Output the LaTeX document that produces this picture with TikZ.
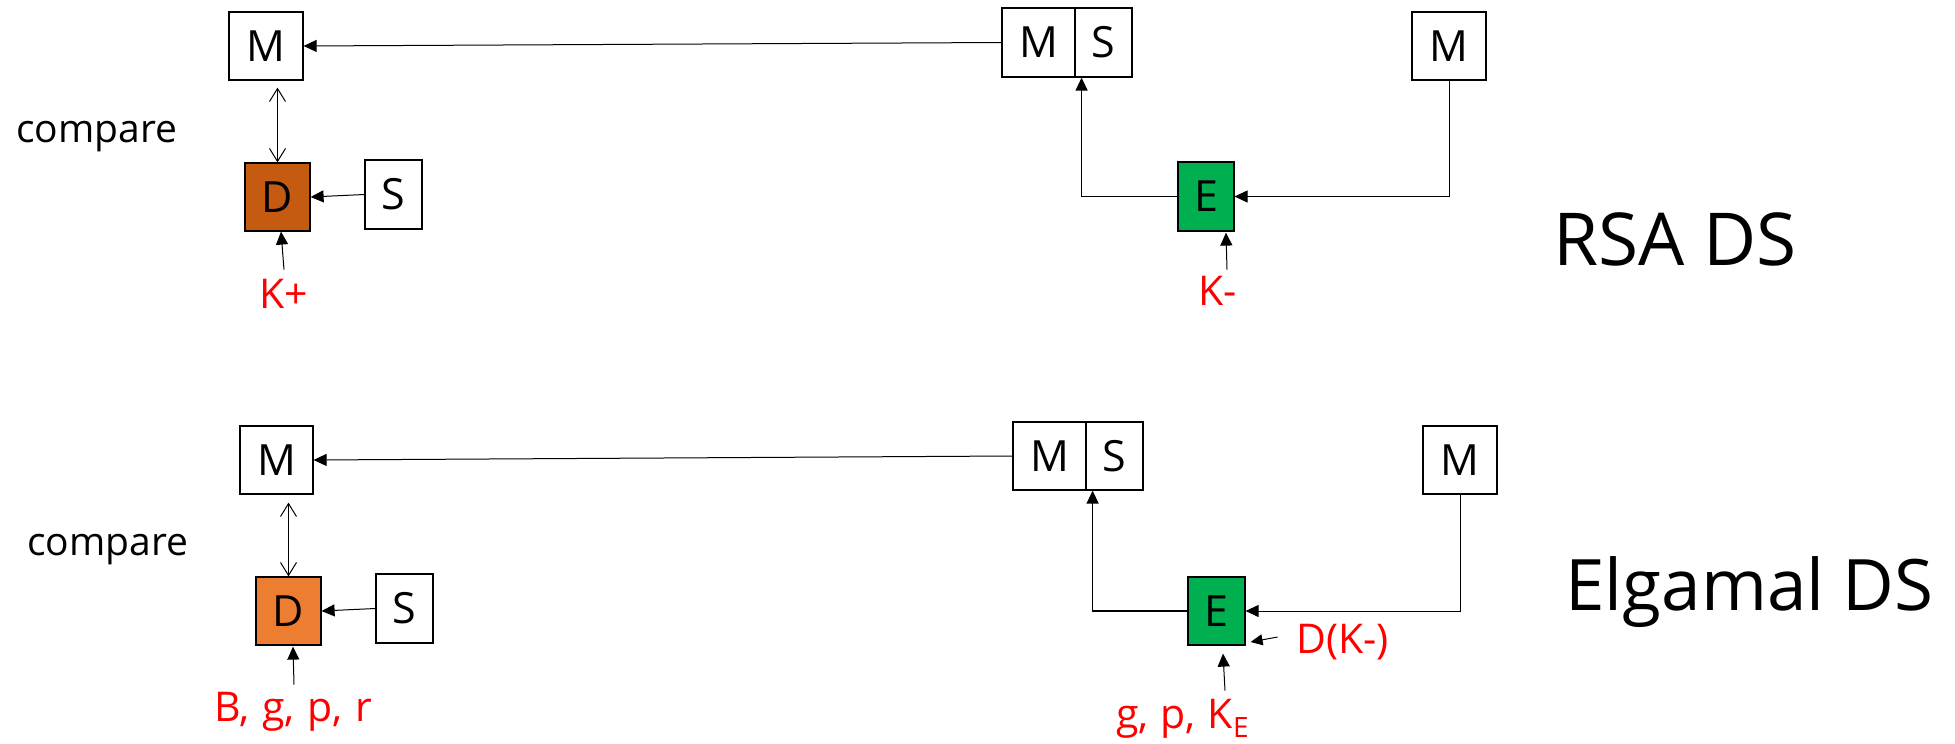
\documentclass[tikz,border=0pt]{standalone}
\usepackage{fontspec}
\setmainfont{Open Sans}
\usetikzlibrary{arrows.meta}
\definecolor{dkorange}{HTML}{C55A11}
\definecolor{ltorange}{HTML}{ED7D31}
\definecolor{pgreen}{HTML}{00B050}
\definecolor{pred}{HTML}{FF0000}
\begin{document}
\begin{tikzpicture}[x=1pt,y=-1pt,
  box/.style={draw=black,line width=1.2pt,inner sep=0pt,minimum height=68pt,font=\fontsize{43}{48}\selectfont},
  lbl/.style={inner sep=0pt,text=pred,font=\fontsize{41}{46}\selectfont},
  plain/.style={inner sep=0pt,font=\fontsize{39}{46}\selectfont},
  title/.style={inner sep=0pt,font=\fontsize{73}{80}\selectfont},
  conn/.style={line width=1pt,-{Triangle[length=13pt,width=12pt]}},
  dbl/.style={line width=1pt,{Straight Barb[length=13pt,width=16pt]}-{Straight Barb[length=13pt,width=16pt]}},
]
\useasboundingbox (0,0) rectangle (1955,744);

% ---------- RSA DS ----------
\node[box,minimum width=74pt] (m1) at (266,46) {M};
\node[box,minimum width=65pt,fill=dkorange] (d1) at (277.5,197) {D};
\node[box,minimum width=57pt,minimum height=69pt] (s1) at (393.5,194.5) {S};
\node[box,minimum width=73pt,minimum height=69pt] (ms1m) at (1038.5,42.5) {M};
\node[box,minimum width=57pt,minimum height=69pt] (ms1s) at (1103.5,42.5) {S};
\node[box,minimum width=74pt] (mr1) at (1449,46) {M};
\node[box,minimum width=56pt,minimum height=69pt,fill=pgreen] (e1) at (1206,196.5) {E};
\node[plain,anchor=base west] (cmp1) at (16,142) {compare};
\node[lbl,anchor=base west] (kp) at (259,308) {K+};
\node[lbl,anchor=base west] (km) at (1198,305) {K-};
\node[title,anchor=base west] (rsa) at (1553,265) {RSA DS};

\draw[conn] (ms1m.west) -- (m1.east);
\draw[dbl] ([yshift=-7pt]d1.north |- m1.south) -- (d1.north);
\draw[conn] (s1.west) -- (d1.east);
\draw[conn,line width=1.3pt] (e1.west) -| ([xshift=6pt]ms1m.south east);
\draw[conn] (mr1.south) |- (e1.east);
\draw[conn] ([xshift=6.5pt,yshift=-38pt]d1.south) -- ([xshift=3.5pt]d1.south);
\draw[conn] ([xshift=21pt,yshift=-38pt]e1.south) -- ([xshift=20pt,yshift=-1pt]e1.south);

% ---------- Elgamal DS ----------
\node[box,minimum width=73pt] (m2) at (276.5,460) {M};
\node[box,minimum width=65pt,fill=ltorange] (d2) at (288.5,611) {D};
\node[box,minimum width=57pt,minimum height=69pt] (s2) at (404.5,608.5) {S};
\node[box,minimum width=73pt] (ms2m) at (1049.5,456) {M};
\node[box,minimum width=57pt] (ms2s) at (1114.5,456) {S};
\node[box,minimum width=74pt] (mr2) at (1460,460) {M};
\node[box,minimum width=57pt,fill=pgreen] (e2) at (1216.5,611) {E};
\node[plain,anchor=base west] (cmp2) at (27,555) {compare};
\node[lbl,anchor=base west] (bgpr) at (214,721) {B,\hspace{13pt}g,\hspace{13pt}p,\hspace{13pt}r};
\node[lbl,anchor=base west] (gpk) at (1116,728) {g,\hspace{12pt}p,\hspace{12pt}K\raisebox{-9pt}{\fontsize{28}{30}\selectfont E}};
\node[lbl,anchor=base west] (dk) at (1296,653) {D(K-)};
\node[title,font=\fontsize{71}{80}\selectfont,anchor=base west] (elg) at (1565,610) {Elgamal DS};

\draw[conn] (ms2m.west) -- (m2.east);
\draw[dbl] ([yshift=-8pt]d2.north |- m2.south) -- (d2.north);
\draw[conn] (s2.west) -- (d2.east);
\draw[conn,line width=1.3pt] (e2.west) -| ([xshift=6pt]ms2m.south east);
\draw[conn] (mr2.south) |- (e2.east);
\draw[conn] ([xshift=5.5pt,yshift=-39pt]d2.south) -- ([xshift=4.5pt,yshift=-1pt]d2.south);
\draw[conn] ([xshift=8.5pt,yshift=-45pt]e2.south) -- ([xshift=6.5pt,yshift=-8pt]e2.south);
\draw[conn,-{Triangle[length=12pt,width=11pt]}] ([xshift=32pt,yshift=-26pt]e2.east) -- ([xshift=5pt,yshift=-31pt]e2.east);
\end{tikzpicture}
\end{document}
